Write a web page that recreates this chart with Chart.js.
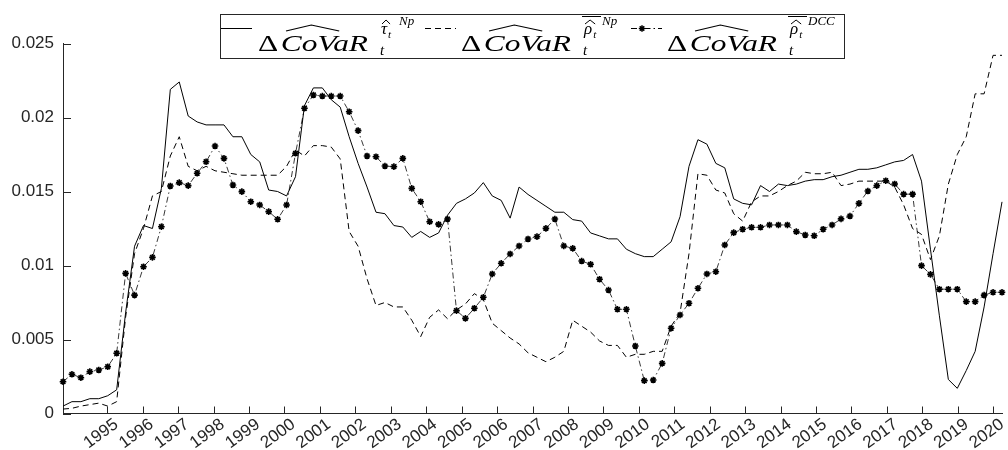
<!DOCTYPE html>
<html>
<head>
<meta charset="utf-8">
<script src="https://cdn.jsdelivr.net/npm/chart.js@4.4.1/dist/chart.umd.min.js"></script>
<style>
  html, body { margin: 0; padding: 0; background: #fff; }
  #wrap { width: 1008px; height: 450px; }
</style>
</head>
<body>
<div id="wrap"><canvas id="covarChart" width="1008" height="450"></canvas></div>
<script>
// 106 observations spread evenly from late 1993 to spring 2020
const firstDate = 1993.75;
const lastDate = 2020.25;
const yearTicks = [1995, 1996, 1997, 1998, 1999, 2000, 2001, 2002, 2003, 2004, 2005, 2006, 2007,
  2008, 2009, 2010, 2011, 2012, 2013, 2014, 2015, 2016, 2017, 2018, 2019, 2020];
const valueTicks = [0, 0.005, 0.01, 0.015, 0.02, 0.025];

const covarTau = [0.0005, 0.0008, 0.0008, 0.0010, 0.0010, 0.0012, 0.0016, 0.0068, 0.0113, 0.0127,
  0.0125, 0.0152, 0.0219, 0.0224, 0.0201, 0.0197, 0.0195, 0.0195, 0.0195, 0.0187,
  0.0187, 0.0175, 0.0170, 0.0151, 0.0150, 0.0147, 0.0160, 0.0208, 0.0220, 0.0220,
  0.0212, 0.0207, 0.0187, 0.0169, 0.0153, 0.0136, 0.0135, 0.0127, 0.0126, 0.0119,
  0.0123, 0.0119, 0.0122, 0.0134, 0.0142, 0.0145, 0.0149, 0.0156, 0.0147, 0.0144,
  0.0132, 0.0153, 0.0148, 0.0144, 0.0140, 0.0136, 0.0136, 0.0131, 0.0130, 0.0122,
  0.0120, 0.0118, 0.0118, 0.0111, 0.0108, 0.0106, 0.0106, 0.0111, 0.0116,
  0.0133, 0.0167, 0.0185, 0.0182, 0.0169, 0.0166, 0.0145, 0.0142, 0.0141, 0.0154,
  0.0150, 0.0155, 0.0154, 0.0155, 0.0157, 0.0158, 0.0158, 0.0160, 0.0161, 0.0163,
  0.0165, 0.0165, 0.0166, 0.0168, 0.0170, 0.0171, 0.0175, 0.0157, 0.0111, 0.0066,
  0.0023, 0.0017, 0.0029, 0.0042, 0.0072, 0.0108, 0.0143];

const covarRho = [0.0003, 0.00035, 0.0005, 0.0006, 0.0007, 0.0005, 0.0008, 0.0065, 0.0108, 0.0125,
  0.0147, 0.0150, 0.0174, 0.0187, 0.0167, 0.0164, 0.0167, 0.0164, 0.0163, 0.0162,
  0.0161, 0.0161, 0.0161, 0.0161, 0.0161, 0.0167, 0.0178, 0.0174, 0.0181, 0.0181,
  0.0180, 0.0172, 0.0123, 0.0113, 0.0091, 0.0073, 0.0075, 0.0072, 0.0072, 0.0063,
  0.0052, 0.0065, 0.0070, 0.0064, 0.0070, 0.0074, 0.0081, 0.0077, 0.0061, 0.0056,
  0.0051, 0.0047, 0.0041, 0.0038, 0.0035, 0.0038, 0.0042, 0.0063, 0.0059, 0.0055,
  0.0049, 0.0046, 0.0046, 0.0038, 0.0040, 0.0040, 0.0042, 0.0042, 0.0059,
  0.0068, 0.0108, 0.0162, 0.0161, 0.0151, 0.0149, 0.0135, 0.0130, 0.0143, 0.0147,
  0.0147, 0.0150, 0.0154, 0.0157, 0.0163, 0.0162, 0.0162, 0.0163, 0.0154, 0.0155,
  0.0157, 0.0157, 0.0157, 0.0157, 0.0153, 0.0141, 0.0125, 0.0121, 0.0104, 0.0120,
  0.0155, 0.0175, 0.0187, 0.0216, 0.0216, 0.0242, 0.0242];

const covarDcc = [0.00215, 0.00265, 0.00242, 0.00283, 0.00294, 0.00316, 0.00407, 0.00947, 0.0080, 0.00992,
  0.01055, 0.01262, 0.01537, 0.0156, 0.0154, 0.01623, 0.01701, 0.01807, 0.01724, 0.01544,
  0.01499, 0.01431, 0.01409, 0.01364, 0.01312, 0.01409, 0.01758, 0.02062, 0.02152, 0.02145,
  0.02145, 0.02145, 0.02039, 0.01911, 0.0174, 0.01735, 0.01672, 0.01668, 0.01724, 0.01521,
  0.01431, 0.01296, 0.01278, 0.01314, 0.00695, 0.00643, 0.00711, 0.00785, 0.00943, 0.01015,
  0.01078, 0.01132, 0.01179, 0.01195, 0.01251, 0.01314, 0.01132, 0.01116, 0.0103, 0.01008,
  0.00907, 0.00834, 0.00704, 0.00704, 0.00456, 0.00222, 0.00226, 0.00339, 0.00576,
  0.00666, 0.00745, 0.00846, 0.00943, 0.00958, 0.01139, 0.01222, 0.01245, 0.01258, 0.01258,
  0.01274, 0.01274, 0.01274, 0.01229, 0.01206, 0.01201, 0.01245, 0.01274, 0.01315, 0.01334,
  0.0142, 0.01503, 0.0154, 0.01573, 0.01551, 0.01482, 0.01482, 0.00999, 0.0094, 0.0084,
  0.0084, 0.0084, 0.00756, 0.00756, 0.008, 0.00819, 0.00819];

const dateStep = (lastDate - firstDate) / (covarTau.length - 1);
const toPoints = vals => vals.map((v, i) => ({ x: firstDate + i * dateStep, y: v }));

const axisColor = '#262626';

// MATLAB style ticks pointing into the plot
const innerTicks = {
  id: 'innerTicks',
  afterDraw(chart) {
    const { ctx, chartArea: a, scales: { x, y } } = chart;
    ctx.save();
    ctx.strokeStyle = axisColor;
    ctx.lineWidth = 1;
    ctx.beginPath();
    yearTicks.forEach(v => {
      const px = Math.round(x.getPixelForValue(v)) + 0.5;
      ctx.moveTo(px, a.bottom);
      ctx.lineTo(px, a.bottom - 7);
    });
    valueTicks.forEach(v => {
      const py = Math.round(y.getPixelForValue(v)) + 0.5;
      ctx.moveTo(a.left, py);
      ctx.lineTo(a.left + 8, py);
    });
    ctx.stroke();
    ctx.restore();
  }
};

// legend entries with the LaTeX-like labels
const legendEntries = [
  { sym: 'τ', mark: 'hat', top: 'Np', sample: 221, word: 258 },
  { sym: 'ρ', mark: 'bar', top: 'Np', sample: 425, word: 461 },
  { sym: 'ρ', mark: 'bar', top: 'DCC', sample: 631, word: 667 }
];

function drawWord(ctx, x, base) {
  const targetW = 110;
  ctx.font = '24px "Liberation Serif"';
  const wD = ctx.measureText('Δ').width;
  ctx.font = 'italic 24px "Liberation Serif"';
  const wC = ctx.measureText('CoV').width;
  const wAll = wD + 2 + ctx.measureText('CoVaR').width;
  const sx = targetW / wAll;
  ctx.save();
  ctx.translate(x, base);
  ctx.scale(sx, 1);
  ctx.font = '24px "Liberation Serif"';
  ctx.fillText('Δ', 0, 0);
  ctx.font = 'italic 24px "Liberation Serif"';
  ctx.fillText('CoVaR', wD + 2, 0);
  // wide hat over CoV
  ctx.beginPath();
  ctx.lineWidth = 1;
  ctx.moveTo(wD + 6, -20);
  ctx.lineTo(wD + 2 + wC / 2 + 2, -26);
  ctx.lineTo(wD + 2 + wC + 2, -20);
  ctx.stroke();
  ctx.restore();
  return x + targetW;
}

const mathLegend = {
  id: 'mathLegend',
  afterDraw(chart) {
    const { ctx } = chart;
    ctx.save();
    ctx.fillStyle = '#fff';
    ctx.fillRect(220, 14, 624, 44);
    ctx.strokeStyle = axisColor;
    ctx.lineWidth = 1;
    ctx.strokeRect(220.5, 14.5, 624, 44);
    ctx.fillStyle = '#000';
    ctx.strokeStyle = '#000';
    ctx.textBaseline = 'alphabetic';
    const base = 51;
    legendEntries.forEach((e, k) => {
      ctx.save();
      ctx.lineWidth = 1;
      ctx.beginPath();
      if (k === 1) ctx.setLineDash([6, 4]);
      if (k === 2) ctx.setLineDash([6, 3, 1.5, 3]);
      ctx.moveTo(e.sample, 28.5);
      ctx.lineTo(e.sample + 31, 28.5);
      ctx.stroke();
      ctx.restore();
      if (k === 2) {
        ctx.save();
        ctx.lineWidth = 1.5;
        const cx = e.sample + 11, cy = 28.5, r = 3.2;
        ctx.beginPath();
        ctx.moveTo(cx - r, cy); ctx.lineTo(cx + r, cy);
        ctx.moveTo(cx, cy - r); ctx.lineTo(cx, cy + r);
        ctx.moveTo(cx - r * 0.7, cy - r * 0.7); ctx.lineTo(cx + r * 0.7, cy + r * 0.7);
        ctx.moveTo(cx - r * 0.7, cy + r * 0.7); ctx.lineTo(cx + r * 0.7, cy - r * 0.7);
        ctx.stroke();
        ctx.restore();
      }
      const xe = drawWord(ctx, e.word, base);
      // subscript t of R
      ctx.font = 'italic 15px "Liberation Serif"';
      ctx.fillText('t', xe + 12, base + 4);
      // superscript symbol with hat, sub t and top index
      ctx.font = 'italic 17px "Liberation Serif"';
      ctx.fillText(e.sym, xe + 13, base - 17);
      const ws = ctx.measureText(e.sym).width;
      ctx.lineWidth = 1;
      ctx.beginPath();
      ctx.moveTo(xe + 14, base - 27);
      ctx.lineTo(xe + 14 + ws / 2 + 1, base - 31);
      ctx.lineTo(xe + 15 + ws + 1, base - 27);
      ctx.stroke();
      ctx.font = 'italic 11px "Liberation Serif"';
      ctx.fillText('t', xe + 14 + ws, base - 13);
      if (e.mark === 'bar') {
        ctx.beginPath();
        ctx.moveTo(xe + 11, base - 34.5);
        ctx.lineTo(xe + 30, base - 34.5);
        ctx.stroke();
      }
      ctx.font = 'italic 13px "Liberation Serif"';
      ctx.fillText(e.top, xe + 31, base - 26);
    });
    ctx.restore();
  }
};

const ctx = document.getElementById('covarChart').getContext('2d');
const covarChart = new Chart(ctx, {
  type: 'line',
  data: {
    datasets: [{
      label: 'tau Np',
      data: toPoints(covarTau),
      borderColor: '#000',
      borderWidth: 1,
      pointRadius: 0,
      tension: 0,
      clip: false
    }, {
      label: 'rho Np',
      data: toPoints(covarRho),
      borderColor: '#000',
      borderWidth: 1,
      borderDash: [6, 4],
      pointRadius: 0,
      tension: 0,
      clip: false
    }, {
      label: 'rho DCC',
      data: toPoints(covarDcc),
      borderColor: '#222',
      borderWidth: 0.9,
      borderDash: [6, 3, 1.5, 3],
      pointStyle: 'star',
      pointRadius: 3.3,
      pointBorderWidth: 1.6,
      pointBorderColor: '#000',
      pointBackgroundColor: '#000',
      tension: 0,
      clip: false
    }]
  },
  options: {
    responsive: false,
    animation: false,
    devicePixelRatio: 1,
    layout: { padding: { left: 0, right: 6, top: 43.5, bottom: 0 } },
    plugins: {
      legend: { display: false },
      tooltip: { enabled: false }
    },
    scales: {
      x: {
        type: 'linear',
        min: firstDate,
        max: lastDate,
        afterBuildTicks: s => { s.ticks = yearTicks.map(v => ({ value: v })); },
        afterFit: s => { s.height = 36.5; },
        grid: { display: false, drawTicks: false },
        border: { display: true, color: axisColor, width: 1 },
        ticks: {
          autoSkip: false,
          minRotation: 36,
          maxRotation: 36,
          padding: 1,
          labelOffset: 9,
          color: axisColor,
          font: { family: '"Liberation Sans", Arial, sans-serif', size: 17 },
          callback: v => String(v)
        }
      },
      y: {
        min: 0,
        max: 0.025,
        afterBuildTicks: s => { s.ticks = valueTicks.map(v => ({ value: v })); },
        afterFit: s => { s.width = 63; },
        grid: { display: false, drawTicks: false },
        border: { display: true, color: axisColor, width: 1 },
        ticks: {
          padding: 9,
          color: axisColor,
          font: { family: '"Liberation Sans", Arial, sans-serif', size: 17 },
          callback: v => String(v)
        }
      }
    }
  },
  plugins: [innerTicks, mathLegend]
});
</script>
</body>
</html>
